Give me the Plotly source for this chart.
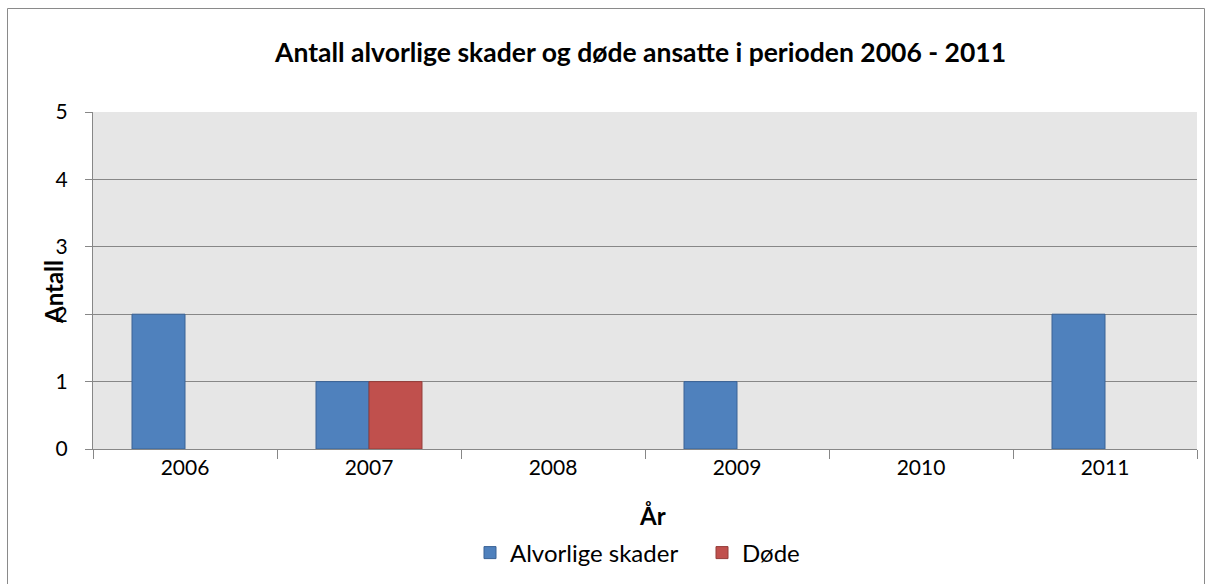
import plotly.graph_objects as go

years = ["2006", "2007", "2008", "2009", "2010", "2011"]
alvorlige_skader = [2, 1, 0, 1, 0, 2]
dode = [0, 1, 0, 0, 0, 0]
y_ticks = [0, 1, 2, 3, 4, 5]

W, H = 1206, 584
L, R, T, B = 93, 9, 112, 135
pw, ph = W - L - R, H - T - B

def px(x):
    return (x - L) / pw

def py(y):
    return (H - B - y) / ph

def nz(vals):
    return [v if v else None for v in vals]

FONT = "Lato"
GRID = "#878787"

fig = go.Figure()
fig.add_trace(go.Bar(
    x=years, y=nz(alvorlige_skader), name="Alvorlige skader",
    marker=dict(color="#4F81BD", line=dict(color="#3A6395", width=1)),
))
fig.add_trace(go.Bar(
    x=years, y=nz(dode), name="Døde",
    marker=dict(color="#C0504D", line=dict(color="#943C39", width=1)),
))

fig.update_layout(
    width=W, height=H,
    margin=dict(l=L, r=R, t=T, b=B, autoexpand=False),
    paper_bgcolor="white",
    plot_bgcolor="#E6E6E6",
    barmode="group",
    bargap=0.424,
    bargroupgap=0,
    font=dict(family=FONT, size=21, color="black"),
    showlegend=True,
    legend=dict(
        orientation="h", x=px(702), xanchor="center", y=py(553), yanchor="middle",
        font=dict(family=FONT, size=24, color="black"),
        traceorder="normal", entrywidth=187,
    ),
    xaxis=dict(
        type="category", tickson="boundaries", ticks="outside", ticklen=9,
        tickcolor=GRID, tickwidth=1, showline=True, linecolor=GRID, linewidth=1,
        showgrid=False, tickfont=dict(family=FONT, size=21),
    ),
    yaxis=dict(
        range=[0, 5], tickvals=y_ticks, ticks="outside", ticklen=7,
        tickcolor=GRID, showline=True, linecolor=GRID, linewidth=1,
        showgrid=True, gridcolor=GRID, gridwidth=1, zeroline=False,
        tickfont=dict(family=FONT, size=21), ticklabelstandoff=13,
    ),
    annotations=[
        dict(text="<b>Antall alvorlige skader og døde ansatte i perioden 2006 - 2011</b>",
             xref="paper", yref="paper", x=px(640), y=py(52), xanchor="center", yanchor="middle",
             showarrow=False, font=dict(family=FONT, size=26.5, color="black")),
        dict(text="<b>År</b>", xref="paper", yref="paper", x=px(652), y=py(515),
             xanchor="center", yanchor="middle", showarrow=False,
             font=dict(family=FONT, size=24, color="black")),
        dict(text="<b>Antall</b>", xref="paper", yref="paper", x=px(53), y=py(292),
             xanchor="center", yanchor="middle", textangle=-90, showarrow=False,
             font=dict(family=FONT, size=24, color="black")),
    ],
    shapes=[
        dict(type="rect", xref="paper", yref="paper", x0=px(7.5), x1=px(1204.5),
             y0=py(600), y1=py(8.5), line=dict(color="#8A8A8A", width=1), layer="below"),
    ],
)

fig.write_html("out.html", config={"displayModeBar": False},
               post_script="document.body.style.margin='0';document.body.style.overflow='hidden';")
